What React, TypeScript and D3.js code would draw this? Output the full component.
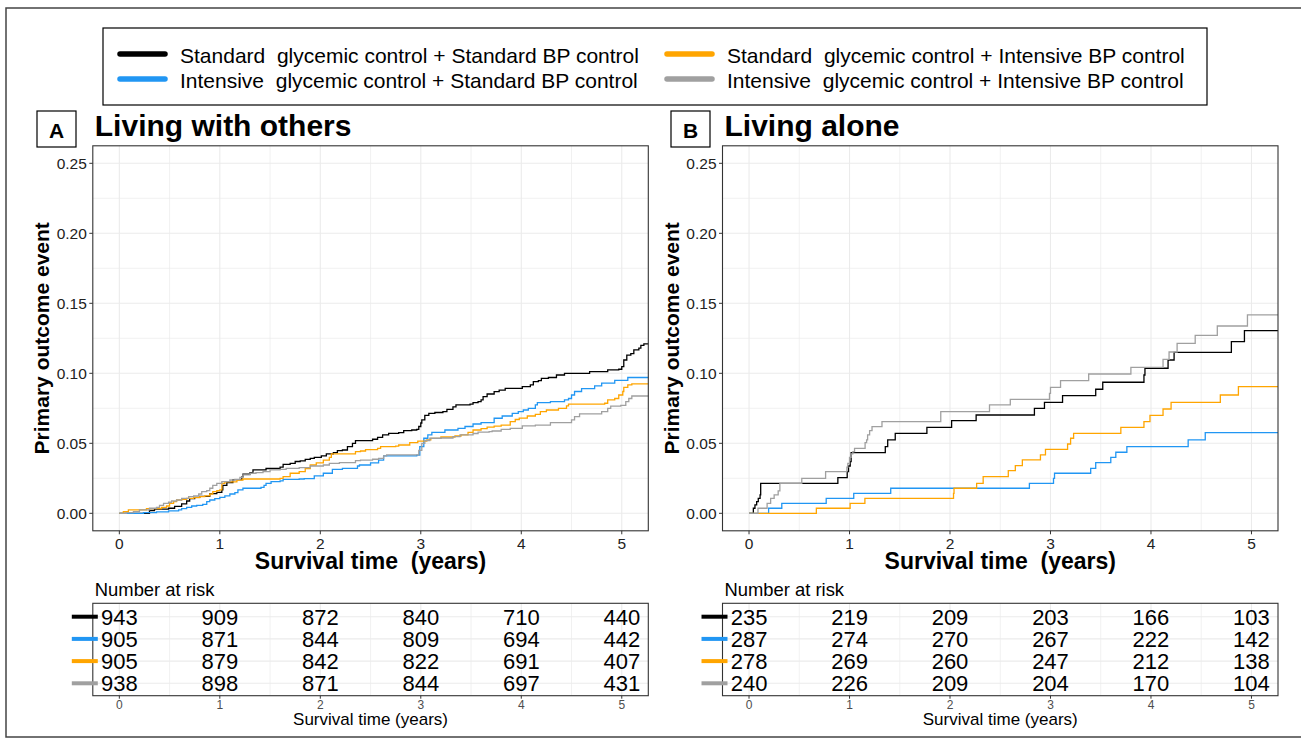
import React from 'react';
import * as d3 from 'd3';

type Pt = [number, number];

const groupLabels = [
  'Standard  glycemic control + Standard BP control',
  'Intensive  glycemic control + Standard BP control',
  'Standard  glycemic control + Intensive BP control',
  'Intensive  glycemic control + Intensive BP control',
];
const groupColors = ['#000000', '#2196F3', '#FFA500', '#A0A0A0'];
const yTicks = [0, 0.05, 0.1, 0.15, 0.2, 0.25];
const xTicks = [0, 1, 2, 3, 4, 5];

// Panel A: Living with others (time in years, cumulative incidence)
const aStdStd: Pt[] = [[0,0],[0.3,0.002],[0.35,0.003],[0.49,0.0036],[0.55,0.005],[0.62,0.0067],[0.67,0.0088],[0.7,0.0105],[0.75,0.0114],[0.8,0.0121],[0.9,0.014],[0.97,0.015],[1.02,0.0167],[1.03,0.02],[1.07,0.022],[1.13,0.024],[1.22,0.026],[1.23,0.028],[1.3,0.029],[1.33,0.031],[1.46,0.032],[1.6,0.033],[1.63,0.035],[1.7,0.0357],[1.75,0.037],[1.8,0.0375],[1.85,0.0385],[1.9,0.0393],[1.94,0.04],[2.01,0.041],[2.06,0.0424],[2.13,0.0433],[2.17,0.0448],[2.22,0.0452],[2.27,0.0476],[2.32,0.05],[2.35,0.0519],[2.52,0.0529],[2.57,0.0543],[2.62,0.056],[2.68,0.0571],[2.78,0.0576],[2.83,0.059],[2.91,0.0595],[2.96,0.06],[2.98,0.062],[3.0,0.0645],[3.01,0.0667],[3.04,0.07],[3.08,0.0714],[3.14,0.072],[3.22,0.0726],[3.26,0.0743],[3.32,0.076],[3.35,0.0774],[3.49,0.078],[3.52,0.079],[3.57,0.0798],[3.6,0.081],[3.62,0.0833],[3.66,0.0852],[3.73,0.0869],[3.78,0.088],[3.84,0.0893],[4.01,0.0905],[4.09,0.0917],[4.12,0.094],[4.17,0.0948],[4.2,0.0964],[4.27,0.097],[4.35,0.0988],[4.43,0.1],[4.68,0.1012],[4.86,0.1024],[4.97,0.1029],[5.0,0.1048],[5.02,0.1095],[5.05,0.113],[5.09,0.114],[5.12,0.1167],[5.17,0.118],[5.19,0.12],[5.22,0.121],[5.264,0.121]];
const aIntStd: Pt[] = [[0,0],[0.24,0.0005],[0.37,0.001],[0.49,0.0017],[0.59,0.0024],[0.62,0.0033],[0.67,0.0043],[0.72,0.0052],[0.77,0.0057],[0.83,0.0064],[0.87,0.0083],[0.9,0.0095],[0.95,0.0105],[1.0,0.0114],[1.05,0.0124],[1.1,0.0138],[1.15,0.0148],[1.18,0.0167],[1.23,0.0179],[1.41,0.0185],[1.44,0.02],[1.46,0.0214],[1.51,0.0226],[1.6,0.0231],[1.63,0.0243],[1.79,0.0245],[1.84,0.0248],[1.94,0.0267],[2.03,0.0286],[2.12,0.0314],[2.22,0.0321],[2.37,0.0338],[2.39,0.0345],[2.5,0.036],[2.58,0.038],[2.63,0.041],[2.96,0.0415],[2.99,0.0476],[3.03,0.0536],[3.07,0.056],[3.11,0.0578],[3.24,0.0595],[3.37,0.0607],[3.44,0.062],[3.52,0.0638],[3.6,0.0648],[3.73,0.0679],[3.81,0.0695],[3.91,0.0714],[3.97,0.0726],[4.02,0.0738],[4.07,0.075],[4.14,0.0774],[4.16,0.079],[4.29,0.0798],[4.43,0.081],[4.47,0.082],[4.5,0.0845],[4.53,0.087],[4.6,0.089],[4.73,0.091],[4.8,0.093],[4.93,0.095],[5.06,0.097],[5.264,0.097]];
const aStdInt: Pt[] = [[0,0],[0.04,0.0012],[0.09,0.0024],[0.27,0.0033],[0.42,0.0043],[0.47,0.0052],[0.5,0.0071],[0.54,0.0083],[0.57,0.0095],[0.62,0.01],[0.67,0.0107],[0.74,0.0112],[0.8,0.0119],[0.85,0.0124],[0.9,0.0138],[0.93,0.0155],[0.97,0.0162],[1.0,0.0167],[1.02,0.0214],[1.05,0.0224],[1.17,0.0238],[1.23,0.0245],[1.6,0.025],[1.63,0.0262],[1.7,0.0286],[1.79,0.0298],[1.85,0.032],[1.9,0.0345],[1.96,0.036],[2.03,0.038],[2.09,0.04],[2.11,0.0425],[2.35,0.044],[2.4,0.0445],[2.45,0.0455],[2.57,0.0464],[2.6,0.0476],[2.75,0.048],[2.78,0.0488],[2.89,0.0505],[2.97,0.0515],[3.06,0.0525],[3.1,0.0535],[3.2,0.0545],[3.34,0.0552],[3.4,0.056],[3.47,0.0578],[3.52,0.0595],[3.6,0.0605],[3.66,0.0615],[3.73,0.0622],[3.8,0.063],[3.89,0.0655],[3.94,0.067],[3.98,0.068],[4.06,0.0695],[4.14,0.0707],[4.19,0.0726],[4.25,0.0738],[4.37,0.075],[4.45,0.0767],[4.47,0.078],[4.83,0.0786],[4.86,0.081],[4.93,0.082],[4.97,0.0845],[5.01,0.087],[5.02,0.09],[5.06,0.0917],[5.1,0.0924],[5.264,0.0924]];
const aIntInt: Pt[] = [[0,0],[0.07,0.0005],[0.14,0.0012],[0.2,0.0024],[0.3,0.0036],[0.37,0.0043],[0.4,0.0057],[0.44,0.0071],[0.49,0.0079],[0.52,0.0088],[0.57,0.0095],[0.62,0.0107],[0.69,0.0119],[0.74,0.0124],[0.79,0.0138],[0.82,0.0155],[0.87,0.0162],[0.9,0.0179],[0.93,0.02],[0.97,0.0214],[1.02,0.0226],[1.1,0.0238],[1.15,0.0243],[1.2,0.0257],[1.23,0.0274],[1.3,0.0286],[1.36,0.029],[1.43,0.0298],[1.5,0.031],[1.6,0.0314],[1.66,0.0321],[1.79,0.0326],[1.9,0.0338],[2.03,0.0345],[2.09,0.0357],[2.19,0.0362],[2.35,0.0376],[2.4,0.038],[2.52,0.0386],[2.58,0.0393],[2.63,0.041],[2.66,0.0417],[2.98,0.045],[3.01,0.05],[3.04,0.052],[3.09,0.0536],[3.2,0.0538],[3.32,0.0548],[3.39,0.056],[3.52,0.057],[3.57,0.058],[3.68,0.0583],[3.71,0.0588],[3.8,0.06],[3.89,0.0607],[4.01,0.0624],[4.14,0.063],[4.29,0.0648],[4.5,0.0667],[4.53,0.069],[4.58,0.071],[4.8,0.0726],[4.86,0.075],[4.89,0.0765],[4.99,0.0771],[5.04,0.0798],[5.07,0.082],[5.1,0.0838],[5.264,0.0838]];

// Panel B: Living alone
const bStdStd: Pt[] = [[0,0],[0.043,0.0036],[0.059,0.006],[0.076,0.0083],[0.092,0.0107],[0.11,0.0131],[0.116,0.0214],[0.884,0.0255],[0.977,0.0298],[0.99,0.0338],[1.007,0.0369],[1.016,0.0433],[1.356,0.0476],[1.38,0.0524],[1.455,0.0571],[1.77,0.0614],[2.016,0.0662],[2.26,0.0702],[2.84,0.075],[2.94,0.0793],[3.12,0.084],[3.45,0.0886],[3.52,0.0936],[3.93,0.0988],[3.94,0.1036],[4.17,0.1095],[4.23,0.115],[4.8,0.1226],[4.93,0.1305],[5.264,0.1305]];
const bIntStd: Pt[] = [[0,0],[0.195,0.0036],[0.326,0.0071],[0.768,0.0107],[1.042,0.0143],[1.41,0.0179],[2.79,0.0214],[3.03,0.025],[3.04,0.0286],[3.4,0.0321],[3.45,0.0362],[3.6,0.04],[3.65,0.0436],[3.76,0.0476],[4.37,0.0524],[4.54,0.0576],[5.264,0.0576]];
const bStdInt: Pt[] = [[0,0],[0.67,0.0036],[1.006,0.0071],[1.153,0.0107],[2.035,0.0143],[2.04,0.0179],[2.265,0.0214],[2.33,0.0262],[2.58,0.0305],[2.65,0.034],[2.72,0.0381],[2.9,0.0417],[2.95,0.0457],[3.17,0.0495],[3.2,0.0536],[3.23,0.0571],[3.7,0.0614],[3.93,0.0655],[3.99,0.07],[4.12,0.0745],[4.2,0.0793],[4.69,0.0845],[4.87,0.0905],[5.264,0.0905]];
const bIntInt: Pt[] = [[0,0],[0.089,0.0036],[0.18,0.0071],[0.215,0.0107],[0.25,0.0131],[0.29,0.016],[0.307,0.0214],[0.525,0.025],[0.762,0.0298],[0.974,0.0329],[0.983,0.0357],[1.0,0.04],[1.016,0.0424],[1.033,0.044],[1.05,0.0464],[1.155,0.0505],[1.17,0.0524],[1.18,0.056],[1.2,0.059],[1.224,0.0619],[1.323,0.0655],[1.908,0.0726],[2.393,0.0774],[2.6,0.0814],[2.99,0.0857],[3.0,0.09],[3.1,0.0948],[3.38,0.0995],[3.8,0.1043],[4.12,0.11],[4.18,0.1152],[4.26,0.1214],[4.44,0.1271],[4.66,0.1338],[4.96,0.1417],[5.264,0.1417]];

// Numbers at risk at years 0..5
const riskAStdStd = [943, 909, 872, 840, 710, 440];
const riskAIntStd = [905, 871, 844, 809, 694, 442];
const riskAStdInt = [905, 879, 842, 822, 691, 407];
const riskAIntInt = [938, 898, 871, 844, 697, 431];
const riskBStdStd = [235, 219, 209, 203, 166, 103];
const riskBIntStd = [287, 274, 270, 267, 222, 142];
const riskBStdInt = [278, 269, 260, 247, 212, 138];
const riskBIntInt = [240, 226, 209, 204, 170, 104];

const FONT = "'Liberation Sans', Arial, Helvetica, sans-serif";

interface PanelProps {
  left: number;
  right: number;
  letter: string;
  letterBoxX: number;
  title: string;
  series: Pt[][];
  risk: number[][];
}

function Panel({ left, right, letter, letterBoxX, title, series, risk }: PanelProps) {
  const top = 145.8;
  const bottom = 530.8;
  const x = d3.scaleLinear().domain([-0.264, 5.264]).range([left, right]);
  const y = d3.scaleLinear().domain([-0.0125, 0.2625]).range([bottom, top]);
  const line = d3.line<Pt>().x(d => x(d[0])).y(d => y(d[1])).curve(d3.curveStepAfter);
  const xGrid = d3.range(0, 11).map(i => i * 0.5);
  const yGrid = d3.range(0, 11).map(i => i * 0.025);
  const cx = (left + right) / 2;

  // risk table geometry
  const tTop = 603.3;
  const tBottom = 695.7;
  const rowY = d3.scalePoint<number>().domain([0, 1, 2, 3]).range([616.7, 683.3]);

  return (
    <g>
      {/* letter box and title */}
      <rect x={letterBoxX} y={111} width={39} height={36} fill="white" stroke="#000" strokeWidth={1.2} />
      <text x={letterBoxX + 19.5} y={130} textAnchor="middle" dominantBaseline="central" fontSize={21} fontWeight="bold" fontFamily={FONT}>{letter}</text>
      <text x={left + 2} y={136} fontSize={30} fontWeight="bold" fontFamily={FONT}>{title}</text>

      {/* plot panel */}
      <rect x={left} y={top} width={right - left} height={bottom - top} fill="white" />
      {xGrid.map(v => (
        <line key={'xg' + v} x1={x(v)} x2={x(v)} y1={top} y2={bottom} stroke="#EBEBEB" strokeWidth={v % 1 === 0 ? 1.1 : 0.7} />
      ))}
      {yGrid.map((v, i) => (
        <line key={'yg' + i} x1={left} x2={right} y1={y(v)} y2={y(v)} stroke="#EBEBEB" strokeWidth={i % 2 === 0 ? 1.1 : 0.7} />
      ))}
      {series.map((s, i) => (
        <path key={'s' + i} d={line(s) || ''} fill="none" stroke={groupColors[i]} strokeWidth={1.3} />
      ))}
      <rect x={left} y={top} width={right - left} height={bottom - top} fill="none" stroke="#333" strokeWidth={1.1} />

      {/* y axis */}
      {yTicks.map(v => (
        <g key={'yt' + v}>
          <line x1={left - 3.5} x2={left} y1={y(v)} y2={y(v)} stroke="#333" strokeWidth={1} />
          <text x={left - 6} y={y(v)} textAnchor="end" dominantBaseline="central" fontSize={15.5} fill="#222" fontFamily={FONT}>{v.toFixed(2)}</text>
        </g>
      ))}
      {/* x axis */}
      {xTicks.map(v => (
        <g key={'xt' + v}>
          <line x1={x(v)} x2={x(v)} y1={bottom} y2={bottom + 3.5} stroke="#333" strokeWidth={1} />
          <text x={x(v)} y={bottom + 13} textAnchor="middle" dominantBaseline="central" fontSize={15.5} fill="#222" fontFamily={FONT}>{v}</text>
        </g>
      ))}
      <text x={cx} y={561} textAnchor="middle" dominantBaseline="central" fontSize={23} fontWeight="bold" fontFamily={FONT} style={{ whiteSpace: 'pre' }}>{'Survival time  (years)'}</text>
      <text transform={`translate(${left - 51},${(top + bottom) / 2}) rotate(-90)`} textAnchor="middle" dominantBaseline="central" fontSize={21} fontWeight="bold" fontFamily={FONT}>Primary outcome event</text>

      {/* risk table */}
      <text x={left + 2} y={589} dominantBaseline="central" fontSize={18.4} fontFamily={FONT}>Number at risk</text>
      <rect x={left} y={tTop} width={right - left} height={tBottom - tTop} fill="white" />
      {xGrid.map(v => (
        <line key={'txg' + v} x1={x(v)} x2={x(v)} y1={tTop} y2={tBottom} stroke="#EBEBEB" strokeWidth={v % 1 === 0 ? 1.1 : 0.7} />
      ))}
      {[0, 1, 2, 3].map(r => (
        <line key={'tyg' + r} x1={left} x2={right} y1={rowY(r)!} y2={rowY(r)!} stroke="#EBEBEB" strokeWidth={1.1} />
      ))}
      <rect x={left} y={tTop} width={right - left} height={tBottom - tTop} fill="none" stroke="#333" strokeWidth={1.1} />
      {risk.map((row, r) => (
        <g key={'rr' + r}>
          <line x1={left - 21} x2={left + 5} y1={rowY(r)!} y2={rowY(r)!} stroke={groupColors[r]} strokeWidth={4} />
          {row.map((n, j) => (
            <text key={'rn' + j} x={x(xTicks[j])} y={rowY(r)! + 0.5} textAnchor="middle" dominantBaseline="central" fontSize={22} fontFamily={FONT}>{n}</text>
          ))}
        </g>
      ))}
      {xTicks.map(v => (
        <g key={'txt' + v}>
          <line x1={x(v)} x2={x(v)} y1={tBottom} y2={tBottom + 3} stroke="#333" strokeWidth={1} />
          <text x={x(v)} y={704.5} textAnchor="middle" dominantBaseline="central" fontSize={12} fill="#4d4d4d" fontFamily={FONT}>{v}</text>
        </g>
      ))}
      <text x={cx} y={719.5} textAnchor="middle" dominantBaseline="central" fontSize={17} fontFamily={FONT}>Survival time (years)</text>
    </g>
  );
}

export default function App() {
  const legendRows = [
    { y: 55, items: [0, 2] },
    { y: 80, items: [1, 3] },
  ];
  const legendCols = [120, 667];
  return (
    <svg width={1301} height={739} style={{ position: 'absolute', left: 0, top: 0, background: 'white' }} fontFamily={FONT}>
      <rect x={0} y={0} width={1301} height={739} fill="white" />
      {/* outer frame */}
      <path d="M1301,8 L6,8 L6,737 L1301,737" fill="none" stroke="#444" strokeWidth={1.5} />

      {/* legend */}
      <rect x={103} y={28} width={1104} height={77} fill="white" stroke="#000" strokeWidth={1.2} />
      {legendRows.map(row =>
        row.items.map((g, ci) => (
          <g key={'lg' + g}>
            <line x1={legendCols[ci]} x2={legendCols[ci] + 45} y1={row.y - 1} y2={row.y - 1} stroke={groupColors[g]} strokeWidth={5.5} strokeLinecap="round" />
            <text x={legendCols[ci] + 60} y={row.y} dominantBaseline="central" fontSize={21} fontFamily={FONT} style={{ whiteSpace: 'pre' }}>{groupLabels[g]}</text>
          </g>
        ))
      )}

      <Panel left={92.8} right={648.3} letter="A" letterBoxX={37} title="Living with others"
        series={[aStdStd, aIntStd, aStdInt, aIntInt]}
        risk={[riskAStdStd, riskAIntStd, riskAStdInt, riskAIntInt]} />
      <Panel left={722.5} right={1278} letter="B" letterBoxX={671} title="Living alone"
        series={[bStdStd, bIntStd, bStdInt, bIntInt]}
        risk={[riskBStdStd, riskBIntStd, riskBStdInt, riskBIntInt]} />
    </svg>
  );
}
